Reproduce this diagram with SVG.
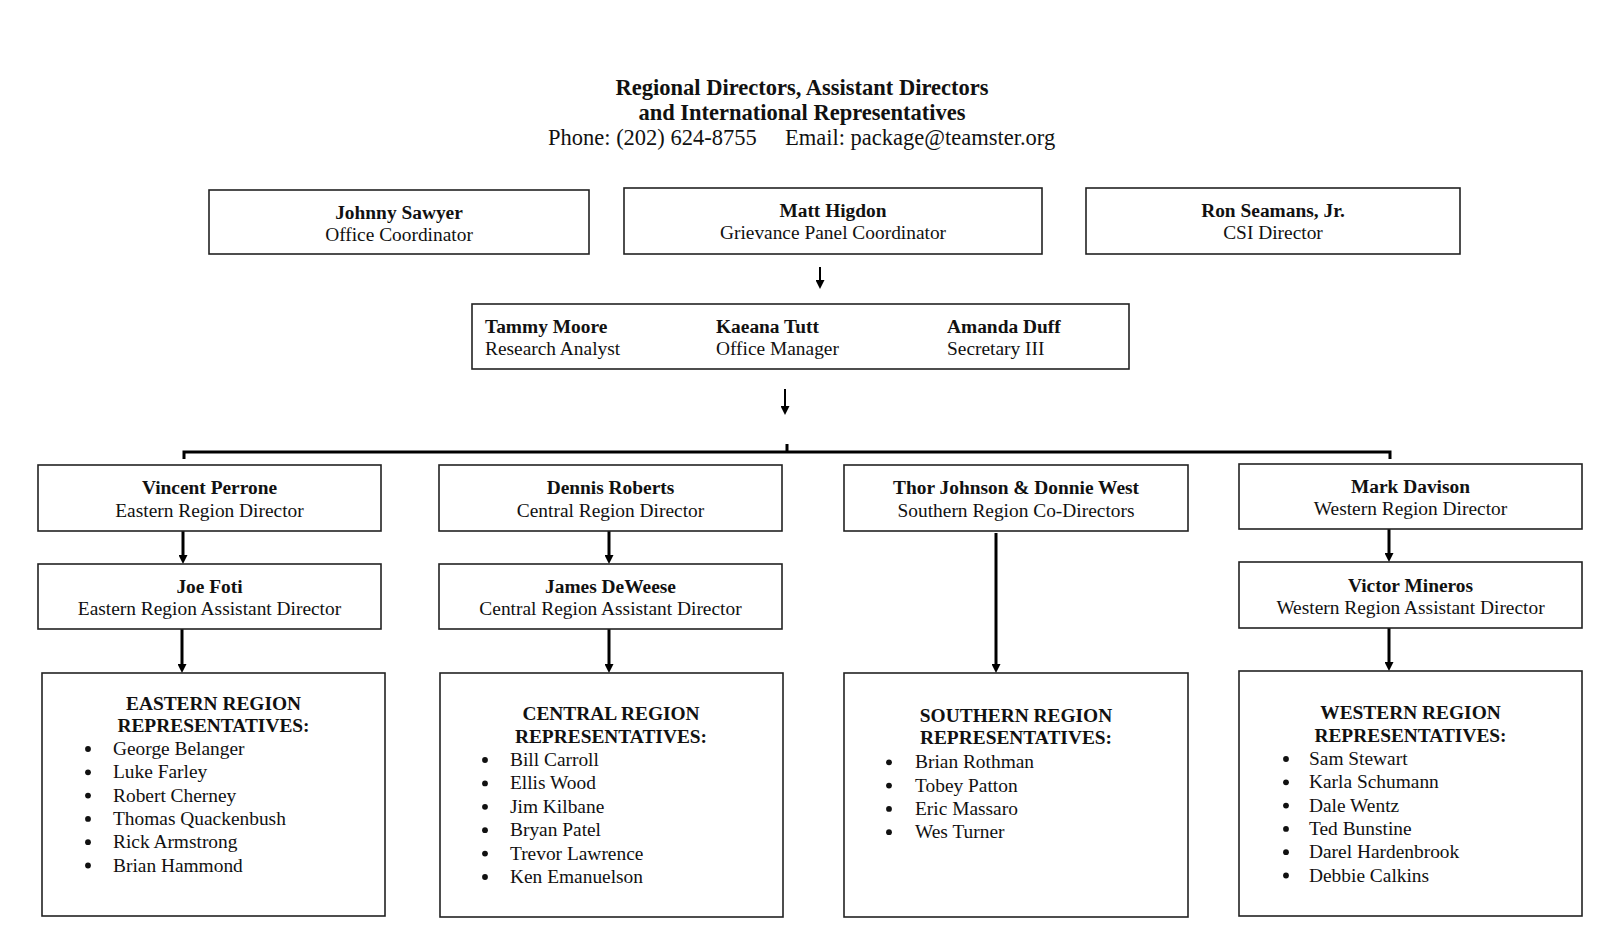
<svg xmlns="http://www.w3.org/2000/svg" width="1600" height="928" viewBox="0 0 1600 928">
<defs>
<style>
text{font-family:"Liberation Serif","Times New Roman",serif;fill:#111;}
.t{font-size:22.5px;}
.tb{font-size:22.5px;font-weight:bold;}
.n{font-size:19.4px;font-weight:bold;}
.r{font-size:19.4px;}
.c{text-anchor:middle;}
.box{fill:#fff;stroke:#222;stroke-width:1.6;}
.ln{stroke:#000;stroke-width:3;fill:none;}
.lt{stroke:#000;stroke-width:2;fill:none;}
.bul{fill:#111;}
</style>
<marker id="ah" viewBox="0 0 10 10" refX="4.4" refY="5" markerWidth="9" markerHeight="9" markerUnits="userSpaceOnUse" orient="auto"><path d="M0,0 L10,5 L0,10 z" fill="#000"/></marker>
<marker id="ahs" viewBox="0 0 10 10" refX="4.4" refY="5" markerWidth="9" markerHeight="9" markerUnits="userSpaceOnUse" orient="auto"><path d="M0,0 L10,5 L0,10 z" fill="#000"/></marker>
</defs>
<rect width="1600" height="928" fill="#fff"/>

<g id="title">
<text class="tb c" x="802" y="94.5">Regional Directors, Assistant Directors</text>
<text class="tb c" x="802" y="119.5">and International Representatives</text>
<text class="t" x="548" y="145">Phone: (202) 624-8755</text>
<text class="t" x="785" y="145">Email: package@teamster.org</text>
</g>

<g id="connectors">
<line class="lt" x1="820" y1="267" x2="820" y2="284" marker-end="url(#ahs)"/>
<line class="lt" x1="785" y1="389" x2="785" y2="410" marker-end="url(#ahs)"/>
<polyline class="ln" points="184,459 184,452 1390,452 1390,459"/>
<line class="ln" x1="787" y1="444" x2="787" y2="452"/>
<line class="ln" x1="183" y1="531" x2="183" y2="559" marker-end="url(#ah)"/>
<line class="ln" x1="609" y1="531" x2="609" y2="559" marker-end="url(#ah)"/>
<line class="ln" x1="1389" y1="529" x2="1389" y2="557" marker-end="url(#ah)"/>
<line class="ln" x1="182" y1="629" x2="182" y2="668" marker-end="url(#ah)"/>
<line class="ln" x1="609" y1="629" x2="609" y2="668" marker-end="url(#ah)"/>
<line class="ln" x1="996" y1="533" x2="996" y2="668" marker-end="url(#ah)"/>
<line class="ln" x1="1389" y1="628" x2="1389" y2="666" marker-end="url(#ah)"/>
</g>

<g id="johnny">
<rect class="box" x="209" y="190" width="380" height="64"/>
<text class="n c" x="399" y="219">Johnny Sawyer</text>
<text class="r c" x="399" y="241">Office Coordinator</text>
</g>
<g id="matt">
<rect class="box" x="624" y="188" width="418" height="66"/>
<text class="n c" x="833" y="217">Matt Higdon</text>
<text class="r c" x="833" y="239">Grievance Panel Coordinator</text>
</g>
<g id="ron">
<rect class="box" x="1086" y="188" width="374" height="66"/>
<text class="n c" x="1273" y="217">Ron Seamans, Jr.</text>
<text class="r c" x="1273" y="239">CSI Director</text>
</g>

<g id="staff">
<rect class="box" x="472" y="304" width="657" height="65"/>
<text class="n" x="485" y="333">Tammy Moore</text>
<text class="r" x="485" y="355">Research Analyst</text>
<text class="n" x="716" y="333">Kaeana Tutt</text>
<text class="r" x="716" y="355">Office Manager</text>
<text class="n" x="947" y="333">Amanda Duff</text>
<text class="r" x="947" y="355">Secretary III</text>
</g>

<g id="vincent">
<rect class="box" x="38" y="465" width="343" height="66"/>
<text class="n c" x="209.5" y="494">Vincent Perrone</text>
<text class="r c" x="209.5" y="517">Eastern Region Director</text>
</g>
<g id="dennis">
<rect class="box" x="439" y="465" width="343" height="66"/>
<text class="n c" x="610.5" y="494">Dennis Roberts</text>
<text class="r c" x="610.5" y="517">Central Region Director</text>
</g>
<g id="thor">
<rect class="box" x="844" y="465" width="344" height="66"/>
<text class="n c" x="1016" y="494">Thor Johnson &amp; Donnie West</text>
<text class="r c" x="1016" y="517">Southern Region Co-Directors</text>
</g>
<g id="mark">
<rect class="box" x="1239" y="464" width="343" height="65"/>
<text class="n c" x="1410.5" y="493">Mark Davison</text>
<text class="r c" x="1410.5" y="515">Western Region Director</text>
</g>

<g id="joe">
<rect class="box" x="38" y="564" width="343" height="65"/>
<text class="n c" x="209.5" y="593">Joe Foti</text>
<text class="r c" x="209.5" y="615">Eastern Region Assistant Director</text>
</g>
<g id="james">
<rect class="box" x="439" y="564" width="343" height="65"/>
<text class="n c" x="610.5" y="593">James DeWeese</text>
<text class="r c" x="610.5" y="615">Central Region Assistant Director</text>
</g>
<g id="victor">
<rect class="box" x="1239" y="562" width="343" height="66"/>
<text class="n c" x="1410.5" y="592">Victor Mineros</text>
<text class="r c" x="1410.5" y="614">Western Region Assistant Director</text>
</g>

<g id="eastern-reps">
<rect class="box" x="42" y="673" width="343" height="243"/>
<text class="n c" x="213.5" y="710">EASTERN REGION</text>
<text class="n c" x="213.5" y="732">REPRESENTATIVES:</text>
<circle class="bul" cx="88" cy="749" r="2.9"/><text class="r" x="113" y="755">George Belanger</text>
<circle class="bul" cx="88" cy="772.3" r="2.9"/><text class="r" x="113" y="778.3">Luke Farley</text>
<circle class="bul" cx="88" cy="795.6" r="2.9"/><text class="r" x="113" y="801.6">Robert Cherney</text>
<circle class="bul" cx="88" cy="818.9" r="2.9"/><text class="r" x="113" y="824.9">Thomas Quackenbush</text>
<circle class="bul" cx="88" cy="842.2" r="2.9"/><text class="r" x="113" y="848.2">Rick Armstrong</text>
<circle class="bul" cx="88" cy="865.5" r="2.9"/><text class="r" x="113" y="871.5">Brian Hammond</text>
</g>

<g id="central-reps">
<rect class="box" x="440" y="673" width="343" height="244"/>
<text class="n c" x="611" y="720">CENTRAL REGION</text>
<text class="n c" x="611" y="743">REPRESENTATIVES:</text>
<circle class="bul" cx="485" cy="760" r="2.9"/><text class="r" x="510" y="766">Bill Carroll</text>
<circle class="bul" cx="485" cy="783.4" r="2.9"/><text class="r" x="510" y="789.4">Ellis Wood</text>
<circle class="bul" cx="485" cy="806.8" r="2.9"/><text class="r" x="510" y="812.8">Jim Kilbane</text>
<circle class="bul" cx="485" cy="830.2" r="2.9"/><text class="r" x="510" y="836.2">Bryan Patel</text>
<circle class="bul" cx="485" cy="853.6" r="2.9"/><text class="r" x="510" y="859.6">Trevor Lawrence</text>
<circle class="bul" cx="485" cy="877" r="2.9"/><text class="r" x="510" y="883">Ken Emanuelson</text>
</g>

<g id="southern-reps">
<rect class="box" x="844" y="673" width="344" height="244"/>
<text class="n c" x="1016" y="722">SOUTHERN REGION</text>
<text class="n c" x="1016" y="744">REPRESENTATIVES:</text>
<circle class="bul" cx="889" cy="762.3" r="2.9"/><text class="r" x="915" y="768.3">Brian Rothman</text>
<circle class="bul" cx="889" cy="785.6" r="2.9"/><text class="r" x="915" y="791.6">Tobey Patton</text>
<circle class="bul" cx="889" cy="808.9" r="2.9"/><text class="r" x="915" y="814.9">Eric Massaro</text>
<circle class="bul" cx="889" cy="832.2" r="2.9"/><text class="r" x="915" y="838.2">Wes Turner</text>
</g>

<g id="western-reps">
<rect class="box" x="1239" y="671" width="343" height="245"/>
<text class="n c" x="1410.5" y="719">WESTERN REGION</text>
<text class="n c" x="1410.5" y="742">REPRESENTATIVES:</text>
<circle class="bul" cx="1286" cy="759" r="2.9"/><text class="r" x="1309" y="765">Sam Stewart</text>
<circle class="bul" cx="1286" cy="782.3" r="2.9"/><text class="r" x="1309" y="788.3">Karla Schumann</text>
<circle class="bul" cx="1286" cy="805.6" r="2.9"/><text class="r" x="1309" y="811.6">Dale Wentz</text>
<circle class="bul" cx="1286" cy="828.9" r="2.9"/><text class="r" x="1309" y="834.9">Ted Bunstine</text>
<circle class="bul" cx="1286" cy="852.2" r="2.9"/><text class="r" x="1309" y="858.2">Darel Hardenbrook</text>
<circle class="bul" cx="1286" cy="875.5" r="2.9"/><text class="r" x="1309" y="881.5">Debbie Calkins</text>
</g>
</svg>
